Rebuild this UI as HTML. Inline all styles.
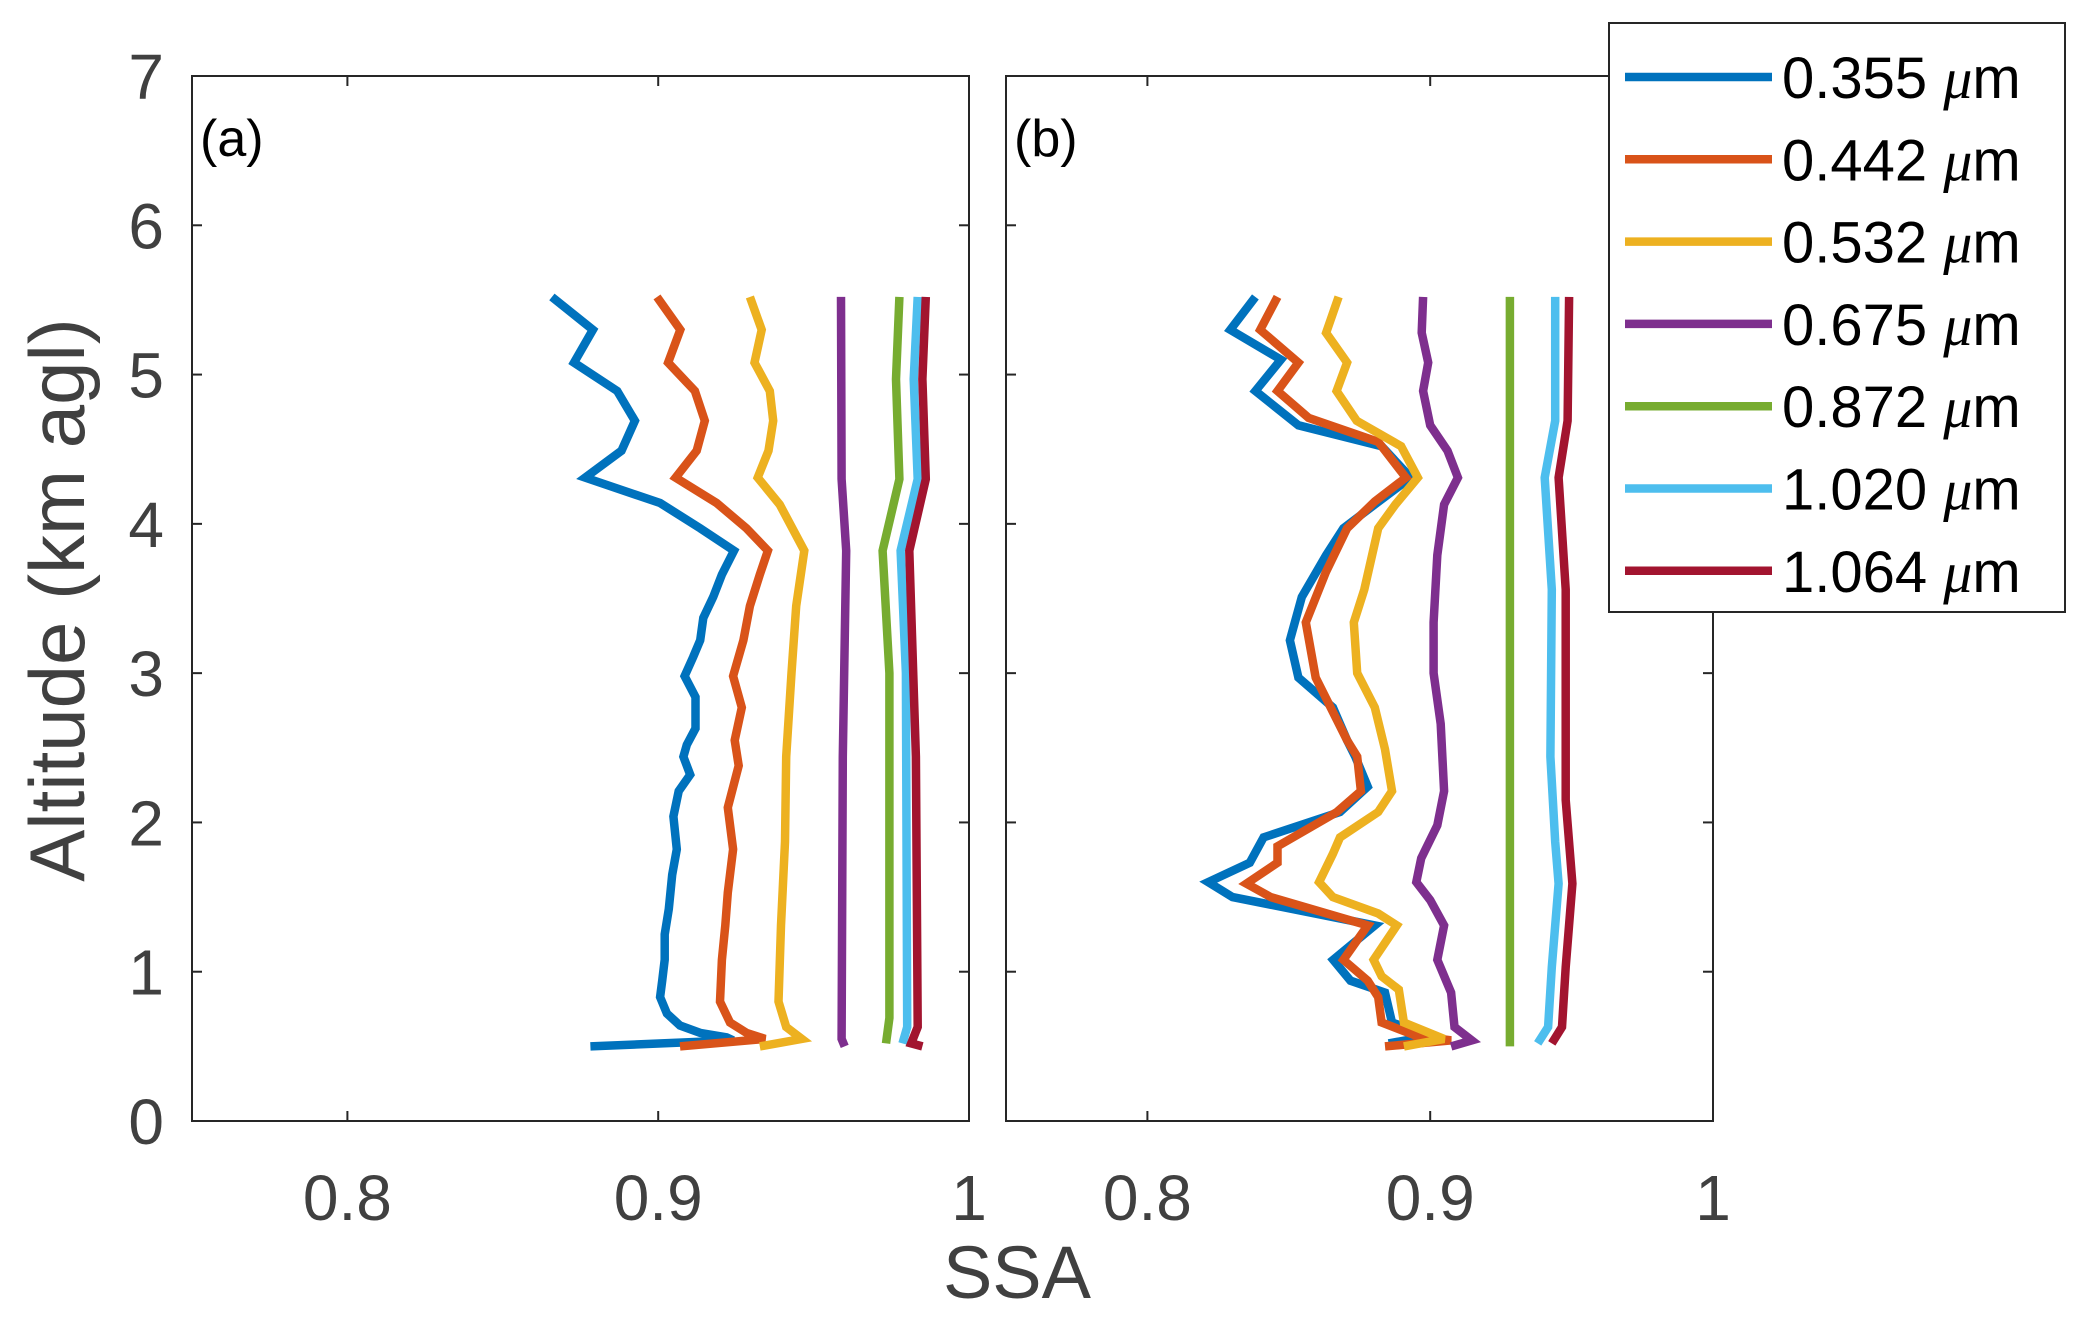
<!DOCTYPE html>
<html><head><meta charset="utf-8"><style>
html,body{margin:0;padding:0;background:#fff}
svg{display:block}
text{font-family:"Liberation Sans",Arial,sans-serif}
</style></head><body>
<svg id="chart" width="2092" height="1319" viewBox="0 0 2092 1319" xmlns="http://www.w3.org/2000/svg">
<rect width="2092" height="1319" fill="#fff"/>
<g id="panelA"></g>
<g id="panelB"></g>
<text x="0" y="0" transform="translate(84,600) rotate(-90)" text-anchor="middle" font-size="78" fill="#404040">Altitude (km agl)</text>
<text x="1017" y="1298" text-anchor="middle" font-size="74" fill="#404040">SSA</text>
<g id="legend"></g>
</svg>
<script>
const seriesNames = ["0.355","0.442","0.532","0.675","0.872","1.020","1.064"];
const xTicks = [0.8, 0.9, 1];
const xTickLabels = ["0.8","0.9","1"];
const yTicks = [0,1,2,3,4,5,6,7];
const yTickLabels = ["0","1","2","3","4","5","6","7"];

// Panel (a): [ssa, altitude] pairs
const a355 = [[0.8658,5.52],[0.879,5.30],[0.8729,5.08],[0.8868,4.89],[0.8925,4.69],[0.8882,4.49],[0.8765,4.31],[0.9006,4.14],[0.9135,3.97],[0.9244,3.82],[0.9205,3.66],[0.9177,3.51],[0.9145,3.37],[0.9135,3.22],[0.9113,3.11],[0.9085,2.98],[0.912,2.84],[0.912,2.63],[0.9092,2.52],[0.9081,2.44],[0.9103,2.32],[0.9066,2.21],[0.9049,2.04],[0.906,1.82],[0.9045,1.65],[0.9034,1.42],[0.9021,1.25],[0.9021,1.08],[0.9013,0.94],[0.9006,0.83],[0.9028,0.72],[0.907,0.64],[0.9135,0.59],[0.922,0.56],[0.9241,0.54],[0.8782,0.50]];
const a442 = [[0.8996,5.52],[0.9071,5.30],[0.9032,5.08],[0.9118,4.89],[0.915,4.69],[0.9124,4.49],[0.9056,4.31],[0.9188,4.14],[0.9284,3.97],[0.9353,3.82],[0.9327,3.66],[0.9295,3.45],[0.9274,3.22],[0.9241,2.98],[0.9269,2.77],[0.9246,2.55],[0.9259,2.38],[0.9224,2.10],[0.9241,1.82],[0.9224,1.53],[0.9216,1.31],[0.9205,1.08],[0.9199,0.80],[0.9231,0.66],[0.9284,0.59],[0.9344,0.55],[0.907,0.50]];
const a532 = [[0.9295,5.52],[0.9333,5.30],[0.931,5.08],[0.9359,4.89],[0.937,4.69],[0.9355,4.49],[0.932,4.31],[0.9391,4.13],[0.947,3.82],[0.9444,3.45],[0.9429,3.00],[0.9412,2.44],[0.9408,1.87],[0.9395,1.31],[0.9387,0.80],[0.9412,0.63],[0.9462,0.55],[0.9327,0.50]];
const a675 = [[0.9588,5.52],[0.959,4.30],[0.9605,3.82],[0.9594,2.44],[0.959,0.55],[0.96,0.50]];
const a872 = [[0.9776,5.52],[0.9765,4.97],[0.9776,4.30],[0.9722,3.82],[0.9744,3.00],[0.9744,0.69],[0.9733,0.52]];
const a1020 = [[0.9835,5.52],[0.9822,4.97],[0.9835,4.30],[0.978,3.82],[0.9797,3.00],[0.9801,0.63],[0.9786,0.52]];
const a1064 = [[0.9861,5.52],[0.985,4.97],[0.9861,4.30],[0.9808,3.82],[0.9829,2.44],[0.9835,0.63],[0.9814,0.52],[0.985,0.50]];

// Panel (b)
const b355 = [[0.8382,5.52],[0.8293,5.30],[0.8472,5.10],[0.8382,4.89],[0.8534,4.66],[0.8828,4.52],[0.8931,4.31],[0.8804,4.13],[0.8693,3.97],[0.8632,3.79],[0.8546,3.51],[0.8504,3.22],[0.8534,2.97],[0.8656,2.77],[0.8706,2.55],[0.8735,2.44],[0.8779,2.24],[0.8681,2.07],[0.8411,1.90],[0.8362,1.73],[0.8215,1.60],[0.8301,1.50],[0.8804,1.31],[0.8657,1.08],[0.8718,0.94],[0.884,0.86],[0.8865,0.66],[0.9,0.57],[0.8853,0.52]];
const b442 = [[0.846,5.52],[0.8399,5.30],[0.8534,5.08],[0.846,4.89],[0.857,4.71],[0.8816,4.55],[0.8914,4.31],[0.8804,4.15],[0.8706,3.97],[0.8632,3.68],[0.856,3.34],[0.8595,2.97],[0.8706,2.55],[0.8742,2.44],[0.8755,2.21],[0.867,2.07],[0.846,1.84],[0.846,1.73],[0.835,1.59],[0.8436,1.50],[0.8779,1.31],[0.8693,1.08],[0.8779,0.94],[0.8816,0.83],[0.8828,0.66],[0.8951,0.57],[0.9074,0.54],[0.884,0.50]];
const b532 = [[0.8676,5.52],[0.8632,5.28],[0.8706,5.08],[0.8669,4.89],[0.874,4.69],[0.8897,4.52],[0.8956,4.31],[0.8877,4.13],[0.8816,3.97],[0.8767,3.56],[0.873,3.34],[0.8742,3.00],[0.8804,2.77],[0.884,2.49],[0.8865,2.21],[0.8816,2.07],[0.8681,1.90],[0.8656,1.79],[0.8607,1.60],[0.8656,1.50],[0.8816,1.39],[0.8882,1.31],[0.88,1.08],[0.8828,0.97],[0.8889,0.88],[0.8907,0.66],[0.9049,0.55],[0.8907,0.50]];
const b675 = [[0.8975,5.52],[0.897,5.28],[0.8993,5.08],[0.8975,4.89],[0.9,4.66],[0.9061,4.49],[0.9098,4.31],[0.9049,4.13],[0.9025,3.79],[0.9012,3.34],[0.9012,3.00],[0.9037,2.66],[0.9049,2.21],[0.9025,1.98],[0.8968,1.76],[0.8951,1.60],[0.9,1.48],[0.9049,1.31],[0.9025,1.08],[0.9074,0.86],[0.9086,0.63],[0.9147,0.54],[0.9074,0.50]];
const b872 = [[0.9282,5.52],[0.9282,3.00],[0.9282,0.50]];
const b1020 = [[0.9442,5.52],[0.9442,4.69],[0.9405,4.31],[0.943,3.56],[0.9425,2.44],[0.9442,1.87],[0.9454,1.59],[0.943,1.03],[0.9417,0.63],[0.938,0.52]];
const b1064 = [[0.9491,5.52],[0.9486,4.69],[0.9454,4.31],[0.9479,3.56],[0.9479,2.15],[0.9503,1.59],[0.9479,1.03],[0.9466,0.63],[0.943,0.52]];

const colors = ["#0072BD","#D95319","#EDB120","#7E2F8E","#77AC30","#4DBEEE","#A2142F"];
const NS = "http://www.w3.org/2000/svg";
const xMin = 0.75, xMax = 1.0, yMin = 0, yMax = 7;
const axTop = 76, axBottom = 1121;

function mk(tag, attrs, parent){
  const e = document.createElementNS(NS, tag);
  for (const k in attrs) e.setAttribute(k, attrs[k]);
  parent.appendChild(e);
  return e;
}
function yScale(v){ return axBottom - (v - yMin) / (yMax - yMin) * (axBottom - axTop); }

function drawPanel(g, left, right, label, series, prefix, showY){
  const xScale = v => left + (v - xMin) / (xMax - xMin) * (right - left);
  series.forEach((s, i) => {
    const p = mk("polyline", {points: s.map(d => xScale(d[0]).toFixed(1) + "," + yScale(d[1]).toFixed(1)).join(" "), fill:"none", stroke:colors[i], "stroke-width":"8.5", "stroke-linejoin":"miter", "stroke-miterlimit":"3"}, g);
    
    
  });
  const frame = mk("rect", {x:left, y:axTop, width:right-left, height:axBottom-axTop, fill:"none", stroke:"#262626", "stroke-width":"2"}, g);
  
  
  xTicks.forEach((t, i) => {
    const x = xScale(t);
    mk("line", {x1:x, y1:axBottom, x2:x, y2:axBottom-10, stroke:"#262626", "stroke-width":"2"}, g);
    mk("line", {x1:x, y1:axTop, x2:x, y2:axTop+10, stroke:"#262626", "stroke-width":"2"}, g);
    const tx = mk("text", {x:x, y:1220, "text-anchor":"middle", "font-size":"64", fill:"#404040"}, g);
    tx.textContent = xTickLabels[i];
    
    
  });
  yTicks.forEach((t, i) => {
    const y = yScale(t);
    mk("line", {x1:left, y1:y, x2:left+10, y2:y, stroke:"#262626", "stroke-width":"2"}, g);
    mk("line", {x1:right, y1:y, x2:right-10, y2:y, stroke:"#262626", "stroke-width":"2"}, g);
    if (showY) {
      const ty = mk("text", {x:164, y:y+23, "text-anchor":"end", "font-size":"64", fill:"#404040"}, g);
      ty.textContent = yTickLabels[i];
      
      
    }
  });
  const lb = mk("text", {x:left+8, y:156, "font-size":"52", fill:"#000"}, g);
  lb.textContent = label;
  
  
}

drawPanel(document.getElementById("panelA"), 192, 969, "(a)", [a355,a442,a532,a675,a872,a1020,a1064], "panel-a", true);
drawPanel(document.getElementById("panelB"), 1006, 1713, "(b)", [b355,b442,b532,b675,b872,b1020,b1064], "panel-b", false);

const lg = document.getElementById("legend");
const box = mk("rect", {x:1609, y:23, width:456, height:589, fill:"#fff", stroke:"#262626", "stroke-width":"2"}, lg);


seriesNames.forEach((n, i) => {
  const y = 77 + i * 82.3;
  const ln = mk("line", {x1:1625, y1:y, x2:1772, y2:y, stroke:colors[i], "stroke-width":"8.5"}, lg);
  
  
  const t = mk("text", {x:1782, y:y+21, "font-size":"58", fill:"#000"}, lg);
  
  
  const s1 = mk("tspan", {}, t);
  s1.textContent = n + " ";
  const s2 = mk("tspan", {"font-style":"italic", "font-family":"Liberation Serif, serif"}, t);
  s2.textContent = "μ";
  const s3 = mk("tspan", {}, t);
  s3.textContent = "m";
});
</script>
</body></html>
